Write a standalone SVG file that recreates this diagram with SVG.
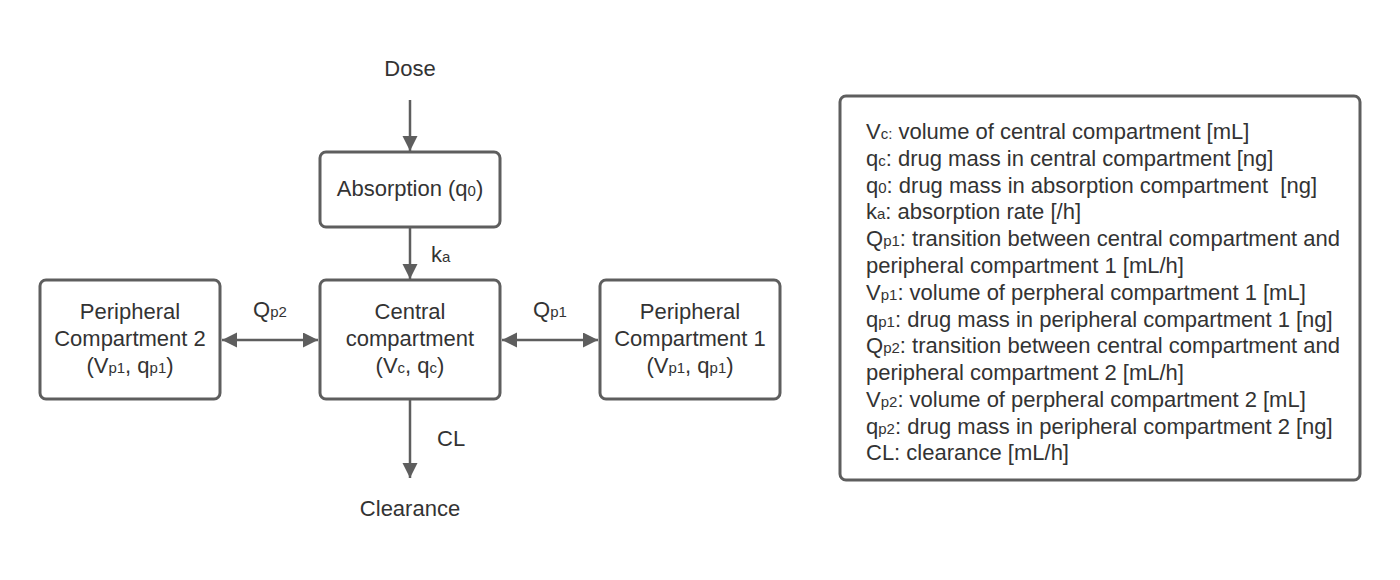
<svg xmlns="http://www.w3.org/2000/svg" width="1400" height="580" viewBox="0 0 1400 580">
<defs>
<style>
text{font-family:"Liberation Sans",Arial,sans-serif;font-size:22px;fill:#333333}
.s{font-size:15px}
.box{fill:#ffffff;stroke:#5e5e5e;stroke-width:3}
.edge{fill:none;stroke:#5e5e5e;stroke-width:2.5}
.c{text-anchor:middle}
.pre{white-space:pre}
</style>
<marker id="ah" markerUnits="userSpaceOnUse" markerWidth="16" markerHeight="16" viewBox="0 0 16 16" refX="15" refY="7.5" orient="auto-start-reverse">
<path d="M0,0 L15,7.5 L0,15 z" fill="#5e5e5e"/>
</marker>
</defs>
<rect width="1400" height="580" fill="#ffffff"/>
<g id="connectors">
<path class="edge" d="M410,100 V151" marker-end="url(#ah)"/>
<path class="edge" d="M410,228 V279" marker-end="url(#ah)"/>
<path class="edge" d="M410,400 V478" marker-end="url(#ah)"/>
<path class="edge" d="M222,340 H318" marker-start="url(#ah)" marker-end="url(#ah)"/>
<path class="edge" d="M502,340 H598" marker-start="url(#ah)" marker-end="url(#ah)"/>
<text x="431" y="262">k<tspan class="s">a</tspan></text>
<text x="437" y="446">CL</text>
<text x="253" y="317">Q<tspan class="s">p2</tspan></text>
<text x="533" y="317">Q<tspan class="s">p1</tspan></text>
</g>
<g id="dose"><text class="c" x="410" y="76">Dose</text></g>
<g id="clearance"><text class="c" x="410" y="516">Clearance</text></g>
<g id="absorption">
<rect class="box" x="320" y="152" width="180" height="75" rx="6"/>
<text class="c" x="410" y="196">Absorption (q<tspan class="s">0</tspan>)</text>
</g>
<g id="central">
<rect class="box" x="320" y="280" width="180" height="119" rx="6"/>
<text class="c" x="410" y="319">Central</text>
<text class="c" x="410" y="346">compartment</text>
<text class="c" x="410" y="373">(V<tspan class="s">c</tspan>, q<tspan class="s">c</tspan>)</text>
</g>
<g id="peripheral2">
<rect class="box" x="40" y="280" width="180" height="119" rx="6"/>
<text class="c" x="130" y="319">Peripheral</text>
<text class="c" x="130" y="346">Compartment 2</text>
<text class="c" x="130" y="373">(V<tspan class="s">p1</tspan>, q<tspan class="s">p1</tspan>)</text>
</g>
<g id="peripheral1">
<rect class="box" x="600" y="280" width="180" height="119" rx="6"/>
<text class="c" x="690" y="319">Peripheral</text>
<text class="c" x="690" y="346">Compartment 1</text>
<text class="c" x="690" y="373">(V<tspan class="s">p1</tspan>, q<tspan class="s">p1</tspan>)</text>
</g>
<g id="legend">
<rect class="box" x="840" y="96" width="520" height="384" rx="6"/>
<text x="866" y="139">V<tspan class="s">c:</tspan> volume of central compartment [mL]</text>
<text x="866" y="166">q<tspan class="s">c</tspan>: drug mass in central compartment [ng]</text>
<text class="pre" x="866" y="193">q<tspan class="s">0</tspan>: drug mass in absorption compartment  [ng]</text>
<text x="866" y="219">k<tspan class="s">a</tspan>: absorption rate [/h]</text>
<text x="866" y="246">Q<tspan class="s">p1</tspan>: transition between central compartment and</text>
<text x="866" y="273">peripheral compartment 1 [mL/h]</text>
<text x="866" y="300">V<tspan class="s">p1</tspan>: volume of perpheral compartment 1 [mL]</text>
<text x="866" y="327">q<tspan class="s">p1</tspan>: drug mass in peripheral compartment 1 [ng]</text>
<text x="866" y="353">Q<tspan class="s">p2</tspan>: transition between central compartment and</text>
<text x="866" y="380">peripheral compartment 2 [mL/h]</text>
<text x="866" y="407">V<tspan class="s">p2</tspan>: volume of perpheral compartment 2 [mL]</text>
<text x="866" y="434">q<tspan class="s">p2</tspan>: drug mass in peripheral compartment 2 [ng]</text>
<text x="866" y="460">CL: clearance [mL/h]</text>
</g>
</svg>
